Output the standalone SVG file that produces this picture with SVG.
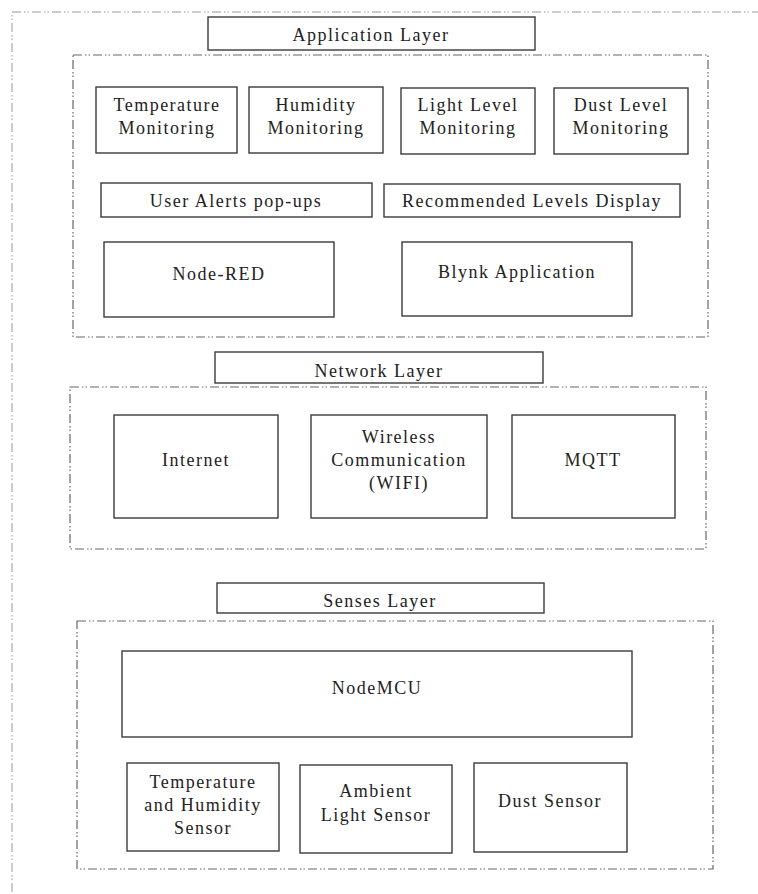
<svg xmlns="http://www.w3.org/2000/svg" width="758" height="894" viewBox="0 0 758 894">
<style>
.bx{fill:#fff;stroke:#3a3a3a;stroke-width:1.4}
.grp{fill:none;stroke:#666;stroke-width:1.2;stroke-dasharray:9 3 1.5 2 1.5 3}
.outer{fill:none;stroke:#999;stroke-width:1;stroke-dasharray:9 3 1.5 2 1.5 3}
text{font-family:'Liberation Serif','DejaVu Serif',serif;font-size:18px;letter-spacing:1.5px;fill:#222;text-anchor:middle}
</style>
<g font-family="Liberation Serif, DejaVu Serif, serif">
<rect class="outer" x="12" y="12" width="800" height="900"/>
<g id="application-group"><rect class="grp" x="73" y="55" width="635" height="282"/></g>
<g id="network-group"><rect class="grp" x="70" y="387" width="636" height="162"/></g>
<g id="senses-group"><rect class="grp" x="77" y="621" width="636" height="248"/></g>
<g id="application-layer"><rect class="bx" x="208" y="17" width="327" height="33"/><text x="371" y="41">Application Layer</text></g>
<g id="temperature-monitoring"><rect class="bx" x="96" y="87" width="141" height="66"/><text x="167" y="111">Temperature</text><text x="167" y="134">Monitoring</text></g>
<g id="humidity-monitoring"><rect class="bx" x="249" y="87" width="134" height="66"/><text x="316" y="111">Humidity</text><text x="316" y="134">Monitoring</text></g>
<g id="light-level-monitoring"><rect class="bx" x="401" y="88" width="134" height="66"/><text x="468" y="111">Light Level</text><text x="468" y="134">Monitoring</text></g>
<g id="dust-level-monitoring"><rect class="bx" x="554" y="88" width="134" height="66"/><text x="621" y="111">Dust Level</text><text x="621" y="134">Monitoring</text></g>
<g id="user-alerts"><rect class="bx" x="101" y="183" width="271" height="34"/><text x="236" y="207">User Alerts pop-ups</text></g>
<g id="recommended-levels"><rect class="bx" x="384" y="184" width="296" height="33"/><text x="532" y="207">Recommended Levels Display</text></g>
<g id="node-red"><rect class="bx" x="104" y="242" width="230" height="75"/><text x="219" y="280">Node-RED</text></g>
<g id="blynk"><rect class="bx" x="402" y="242" width="230" height="74"/><text x="517" y="278">Blynk Application</text></g>
<g id="network-layer"><rect class="bx" x="215" y="352" width="328" height="31"/><text x="379" y="377">Network Layer</text></g>
<g id="internet"><rect class="bx" x="114" y="415" width="164" height="103"/><text x="196" y="466">Internet</text></g>
<g id="wireless"><rect class="bx" x="311" y="415" width="176" height="103"/><text x="399" y="443">Wireless</text><text x="399" y="466">Communication</text><text x="399" y="489">(WIFI)</text></g>
<g id="mqtt"><rect class="bx" x="512" y="415" width="163" height="103"/><text x="593" y="466">MQTT</text></g>
<g id="senses-layer"><rect class="bx" x="217" y="583" width="327" height="30"/><text x="380" y="607">Senses Layer</text></g>
<g id="nodemcu"><rect class="bx" x="122" y="651" width="510" height="86"/><text x="377" y="694">NodeMCU</text></g>
<g id="temp-humidity-sensor"><rect class="bx" x="127" y="763" width="152" height="88"/><text x="203" y="788">Temperature</text><text x="203" y="811">and Humidity</text><text x="203" y="834">Sensor</text></g>
<g id="ambient-light-sensor"><rect class="bx" x="300" y="765" width="152" height="88"/><text x="376" y="797">Ambient</text><text x="376" y="821">Light Sensor</text></g>
<g id="dust-sensor"><rect class="bx" x="474" y="763" width="153" height="89"/><text x="550" y="807">Dust Sensor</text></g>
<g id="connectors"></g>
</g>
</svg>
